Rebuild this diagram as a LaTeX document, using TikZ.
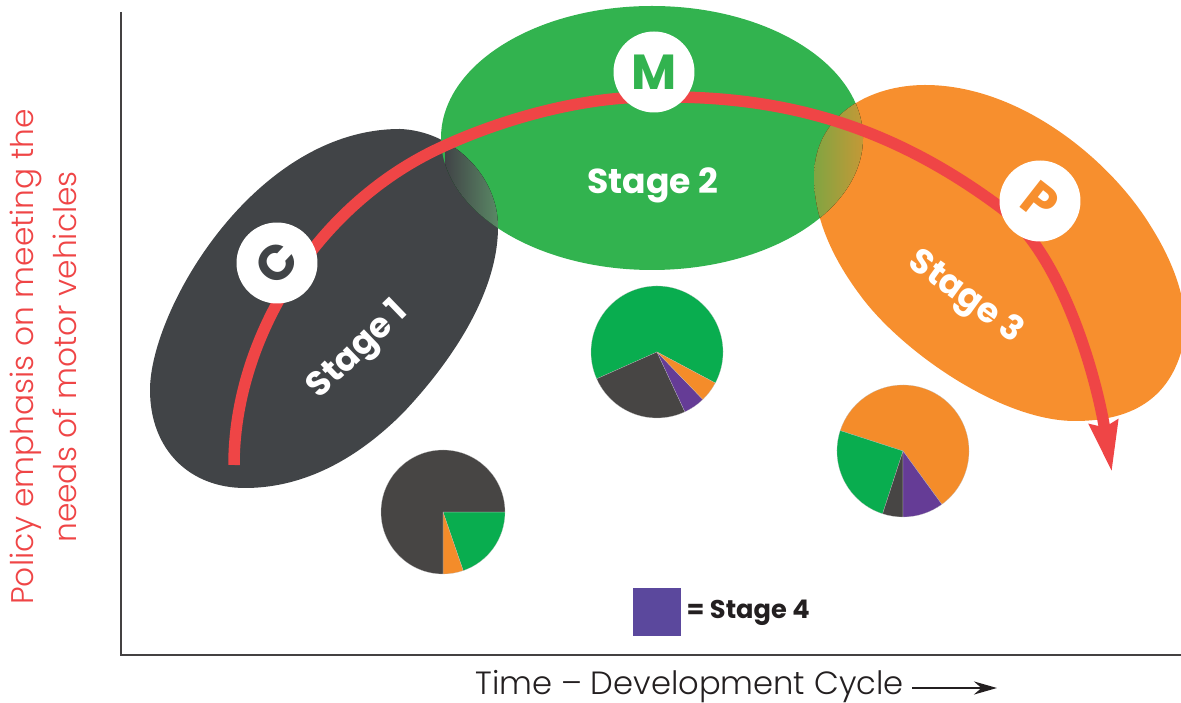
\documentclass[tikz,border=0pt]{standalone}
\usepackage{fontspec}
\usepackage{xcolor}
\usetikzlibrary{arrows.meta,positioning}
\setmainfont{Poppins}
\newfontfamily\thinfont{Poppins Light}
\definecolor{stageone}{HTML}{414447}
\definecolor{stagetwo}{HTML}{32B34F}
\definecolor{stagethree}{HTML}{F78F2E}
\definecolor{curvered}{HTML}{EF4546}
\definecolor{piedark}{HTML}{474544}
\definecolor{piegreen}{HTML}{09AD4F}
\definecolor{pieorange}{HTML}{F48C2A}
\definecolor{piepurple}{HTML}{653C96}
\definecolor{keypurple}{HTML}{5B489D}
\definecolor{inkdark}{HTML}{231F20}
\definecolor{lensgrey}{HTML}{5A8865}
\newcommand{\stageonepath}{(150,313) .. controls (150,393) and (255,574) .. (400,574) .. controls (452,572) and (498,528) .. (498,476) .. controls (498,413) and (455,345) .. (403,290) .. controls (345,232) and (290,215) .. (245,215) .. controls (190,215) and (150,253) .. (150,313) -- cycle}
\newcommand{\stagetwopath}{(652,565) ellipse (211 and 132)}
\newcommand{\stagethreepath}{(814,526) .. controls (814,588) and (870,618) .. (925,618) .. controls (1020,618) and (1110,543) .. (1150,478) .. controls (1180,431) and (1190,388) .. (1183,358) .. controls (1170,303) and (1130,282) .. (1075,282) .. controls (1000,282) and (900,353) .. (860,408) .. controls (830,448) and (814,488) .. (814,526) -- cycle}
\tikzset{
	badge/.style={circle,fill=white,minimum size=1.62cm,inner sep=0pt},
	stagelabel/.style={text=white,font=\bfseries\fontsize{19.7}{20}\selectfont,inner sep=0pt},
	badgeletter/.style={font=\bfseries\fontsize{28}{28}\selectfont,inner sep=0pt},
	axislabel/.style={text=curvered,font=\thinfont\fontsize{17.8}{18}\selectfont,rotate=90,inner sep=0pt},
	slice/.style={draw=white!75!black,line width=.1pt}
}
\begin{document}
\begin{tikzpicture}[x=.02cm,y=.02cm]
		\useasboundingbox (0,0) rectangle (1181,703);
		\draw[inkdark!85,line width=.03cm] (121,691) -- (121,48) -- (1181,48);
		\fill[stageone] \stageonepath;
		\fill[stagetwo] \stagetwopath;
		\begin{scope}
		\clip \stageonepath;
		\clip \stagetwopath;
		\fill[left color=stageone,right color=lensgrey] (445,463) rectangle (498,573);
		\end{scope}
		\fill[stagethree] \stagethreepath;
		\begin{scope}
		\clip \stagethreepath;
		\clip \stagetwopath;
		\fill[left color=stagetwo!60!stagethree,right color=stagethree!75!stagetwo] (814,463) rectangle (864,623);
		\end{scope}
		\draw[curvered,line width=.23cm,-{Stealth[length=1cm,width=.54cm,inset=.08cm]}] (234,238) .. controls (234,363) and (315,498) .. (442,556) .. controls (500,583) and (580,606) .. (650,606) .. controls (770,608) and (880,585) .. (1000,496) .. controls (1060,451) and (1095,333) .. (1112,230);
		\node[badge] (badgeC) at (277,440) {};
		\node[badge] (badgeM) at (654,631) {};
		\node[badge] (badgeP) at (1040,502) {};
		\node[badgeletter,text=stageone,rotate=47] at (badgeC) {C};
		\node[badgeletter,text=stagetwo] at (badgeM) {M};
		\node[badgeletter,text=stagethree,rotate=-38] at (badgeP) {P};
		\node[stagelabel,rotate=44] (labelone) at (359,352) {Stage 1};
		\node[stagelabel] (labeltwo) at (653,518) {Stage 2};
		\node[stagelabel,rotate=-36] (labelthree) at (965,405) {Stage 3};
		\foreach \start/\stop/\col in {-71/0/piegreen,-90/-71/pieorange,0/270/piedark}
			\filldraw[fill=\col,slice] (443,191) -- ++(\start:62) arc (\start:\stop:62) -- cycle;
		\foreach \start/\stop/\col in {-28/204/piegreen,204/295/piedark,295/314/piepurple,314/332/pieorange}
			\filldraw[fill=\col,slice] (657,351) -- ++(\start:66) arc (\start:\stop:66) -- cycle;
		\foreach \start/\stop/\col in {-54/162/pieorange,162/252/piegreen,252/270/piedark,270/306/piepurple}
			\filldraw[fill=\col,slice] (903,252) -- ++(\start:66) arc (\start:\stop:66) -- cycle;
		\node[fill=keypurple,minimum width=.96cm,minimum height=.96cm,inner sep=0pt] (keybox) at (657,91) {};
		\node[right=.1cm of keybox,yshift=-.02cm,text=inkdark,inner sep=0pt,font=\bfseries\fontsize{14.6}{15}\selectfont] (keytext) {= Stage 4};
		\node[axislabel] (ylabelone) at (26,346) {Policy emphasis on meeting the};
		\node[axislabel] (ylabeltwo) at (65,346) {needs of motor vehicles};
		\node[anchor=base west,inner sep=0pt,text=inkdark,font=\thinfont\fontsize{18.3}{18}\selectfont] (timelabel) at (475,8) {Time – Development Cycle};
		\coordinate (timeend) at (997,15);
		\draw[inkdark,line width=.05cm,-{Stealth[length=.46cm,width=.26cm]}] (912,15) -- (timeend);
		\end{tikzpicture}
\end{document}
